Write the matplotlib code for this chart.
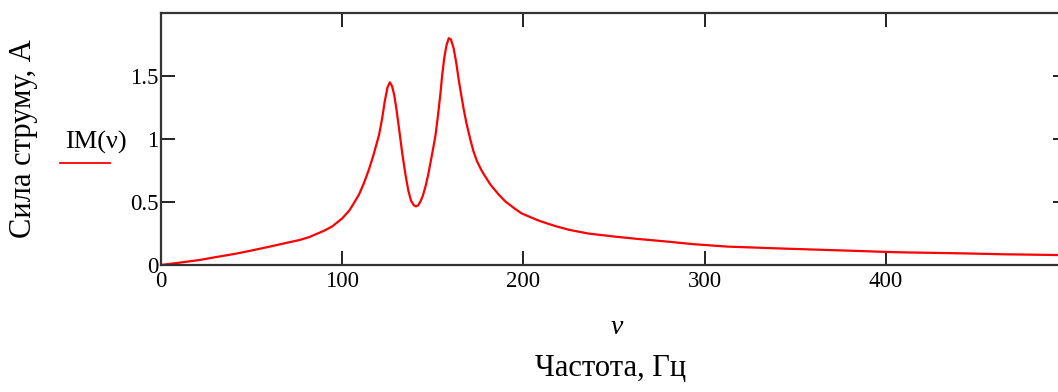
import matplotlib
matplotlib.use("Agg")
import matplotlib.pyplot as plt

# Frequency (Hz) and current amplitude (A)
freq = [0, 10, 21.4, 30, 40.7, 50, 60, 70, 76.4, 81.9, 90, 94.5, 100, 103.8, 106,
        109.3, 112, 114.8, 117, 120.3, 122, 123.5, 125, 126.3, 127.5, 128.7, 130,
        131.3, 133.1, 135, 136.5, 138, 139.5, 140.7, 142, 143.2, 144.5, 146, 147.5,
        148.7, 150, 151.5, 152.8, 154.2, 155.2, 156.3, 157.5, 158.8, 160, 161.5,
        163, 164.3, 165.7, 167, 168.5, 169.8, 171, 172.5, 174.5, 177.1, 179.5,
        181.7, 184, 186.3, 190, 195, 199, 203, 208, 212, 217.4, 225, 235.7, 250,
        263, 280, 294, 312.6, 340, 365.8, 407, 440, 465.5, 500]
current = [0, 0.018, 0.04, 0.062, 0.088, 0.115, 0.146, 0.178, 0.198, 0.222, 0.272,
           0.306, 0.37, 0.43, 0.48, 0.56, 0.65, 0.76, 0.86, 1.03, 1.16, 1.30, 1.41,
           1.45, 1.42, 1.35, 1.23, 1.09, 0.89, 0.71, 0.59, 0.51, 0.475, 0.465, 0.475,
           0.505, 0.55, 0.625, 0.72, 0.81, 0.91, 1.03, 1.18, 1.36, 1.51, 1.64, 1.74,
           1.80, 1.79, 1.72, 1.60, 1.47, 1.35, 1.24, 1.13, 1.05, 0.98, 0.90, 0.82,
           0.745, 0.69, 0.64, 0.60, 0.56, 0.505, 0.45, 0.41, 0.385, 0.355, 0.335,
           0.31, 0.28, 0.25, 0.226, 0.207, 0.185, 0.165, 0.146, 0.132, 0.12, 0.101,
           0.093, 0.085, 0.078]

x_ticks = [0, 100, 200, 300, 400]
x_tick_labels = ["0", "100", "200", "300", "400"]
y_ticks = [0, 0.5, 1, 1.5]
y_tick_labels = ["0", "0.5", "1", "1.5"]

W, H = 1058, 392
fig = plt.figure(figsize=(W / 100, H / 100), dpi=100)
serif = "Liberation Serif"

ax = fig.add_axes([161 / W, 1 - 265 / H, 906 / W, 252 / H])
ax.plot(freq, current, color="#ff0000", lw=1.6)
ax.set_xlim(0, 500)
ax.set_ylim(0, 2.0)

ax.set_xticks(x_ticks)
ax.set_xticklabels(x_tick_labels)
ax.set_yticks(y_ticks)
ax.set_yticklabels(y_tick_labels)
ax.tick_params(direction="in", length=10, width=1.4, color="#222222",
               top=True, right=True, labelsize=16.5, pad=4)
for lab in ax.get_xticklabels() + ax.get_yticklabels():
    lab.set_fontfamily(serif)
ax.tick_params(axis="y", pad=2)
for s in ax.spines.values():
    s.set_linewidth(1.6)
    s.set_color("#333333")

# axis labels (Mathcad style)
fig.text(617 / W, 1 - 328 / H, "ν", fontsize=20, fontstyle="italic",
         family=serif, ha="center", va="center")
fig.text(611 / W, 1 - 369 / H, "Частота, Гц", fontsize=22, family=serif,
         ha="center", va="center")
fig.text(24 / W, 1 - 139 / H, "Сила струму, А", fontsize=22, family=serif,
         rotation=90, ha="center", va="center")

# legend-like label
fig.text(96 / W, 1 - 142 / H, "IM(ν)", fontsize=19, family=serif,
         ha="center", va="center")
fig.add_artist(plt.Line2D([60 / W, 110 / W], [1 - 163 / H, 1 - 163 / H],
                          color="#ff0000", lw=1.3, transform=fig.transFigure))

fig.savefig("out.png", dpi=100)
